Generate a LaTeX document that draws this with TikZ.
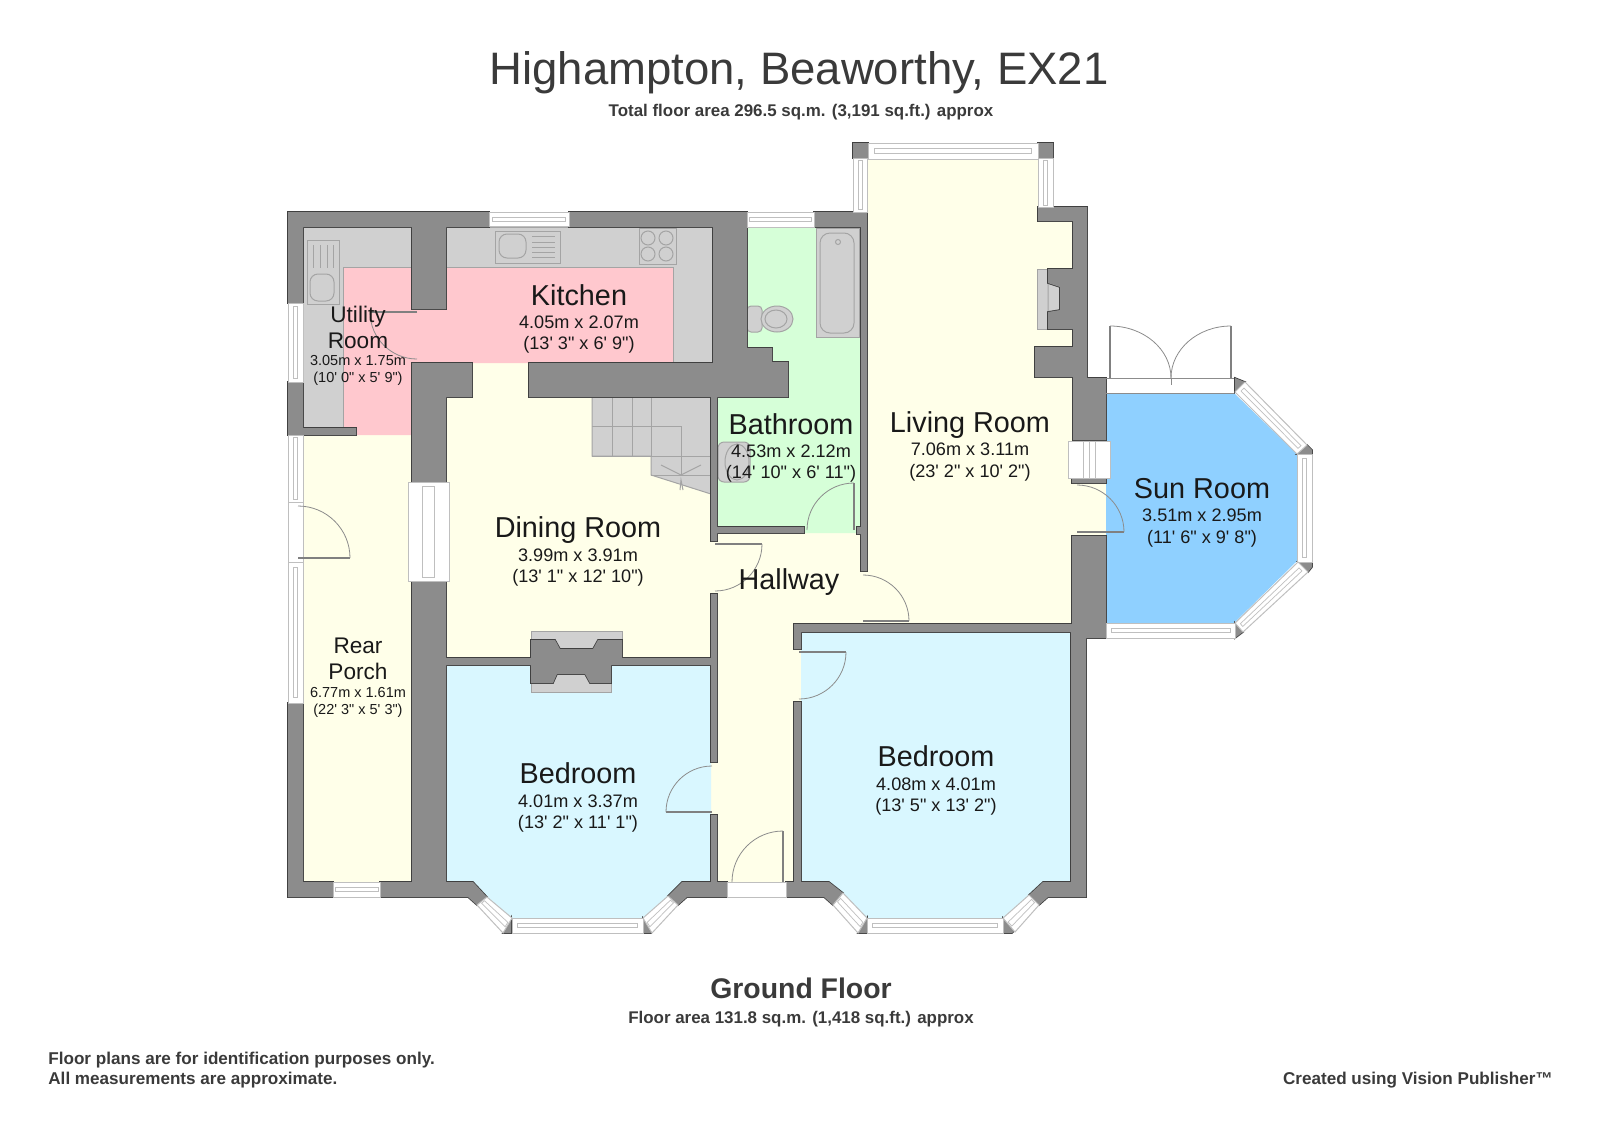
\documentclass[tikz,border=0pt]{standalone}
\usepackage{fontspec}
\usetikzlibrary{calc,positioning}

\newfontfamily\planfont{Liberation Sans}

\definecolor{floorcream}{HTML}{FFFFE9}
\definecolor{floorpink}{HTML}{FFC8CE}
\definecolor{floorblue}{HTML}{D9F7FF}
\definecolor{floorgreen}{HTML}{D6FFD8}
\definecolor{floorsun}{HTML}{8FD0FF}
\definecolor{fixture}{HTML}{D0D0D0}
\definecolor{fixtureline}{HTML}{A4A4A4}
\definecolor{wallgrey}{HTML}{8C8C8C}
\definecolor{inkgrey}{HTML}{3A3A3A}

\tikzset{
	floor/.style={draw=none},
	fitting/.style={draw=fixtureline, fill=fixture, line width=0.5pt},
	fitline/.style={draw=fixtureline, line width=0.5pt},
	wallline/.style={draw=black!75, line width=0.8pt},
	wallfill/.style={fill=wallgrey},
	glass/.style={draw=black!25, fill=white, line width=0.5pt},
	glassline/.style={draw=black!25, line width=0.35pt},
	leaf/.style={draw=black!50, line width=1.1pt},
	swing/.style={draw=black!45, line width=0.4pt},
	roomname/.style={font=\planfont\fontsize{14.4}{14.4}\selectfont, text=black!90, inner sep=0pt},
	roomsize/.style={font=\planfont\fontsize{9.05}{10.6}\selectfont, text=black!90, align=center, inner sep=0pt},
	nameslim/.style={font=\planfont\fontsize{11.3}{13.2}\selectfont, text=black!90, align=center, inner sep=0pt},
	sizeslim/.style={font=\planfont\fontsize{7.25}{8.6}\selectfont, text=black!90, align=center, inner sep=0pt},
	heading/.style={font=\planfont\fontsize{22.75}{22.75}\selectfont, text=inkgrey, inner sep=0pt},
	strapline/.style={font=\planfont\bfseries\fontsize{8.46}{8.46}\selectfont, text=inkgrey, inner sep=0pt},
	floorname/.style={font=\planfont\bfseries\fontsize{14.2}{14.2}\selectfont, text=inkgrey, inner sep=0pt},
	smallprint/.style={font=\planfont\bfseries\fontsize{8.55}{9.9}\selectfont, text=inkgrey, inner sep=0pt}
}

% window: short end #1 #2, far end #4 #3
\newcommand{\glazing}[4]{
	\draw[glass] #1 -- #2 -- #3 -- #4 -- cycle;
	\coordinate (ga) at ($#1!.35!#2$);
	\coordinate (gb) at ($#1!.65!#2$);
	\coordinate (gc) at ($#4!.65!#3$);
	\coordinate (gd) at ($#4!.35!#3$);
	\draw[glassline] ($(ga)!.04!(gd)$) -- ($(gd)!.04!(ga)$) -- ($(gc)!.04!(gb)$) -- ($(gb)!.04!(gc)$) -- cycle;
}

% door: hinge, leaf angle, swing end angle, width
\newcommand{\doorway}[4]{
	\draw[leaf] #1 -- ++(#2:#4);
	\draw[swing] #1 ++(#2:#4) arc[start angle=#2, end angle=#3, radius=#4];
}

\newcommand{\wallset}[1]{
	\path[#1]
		(288,212) -- (489,212) -- (489,227) -- (288,227) -- cycle
		(569,212) -- (747,212) -- (747,227) -- (569,227) -- cycle
		(814,212) -- (867,212) -- (867,227) -- (814,227) -- cycle
		(288,212) -- (303,212) -- (303,303) -- (288,303) -- cycle
		(288,382) -- (303,382) -- (303,428) -- (356,428) -- (356,435) -- (288,435) -- cycle
		(412,227) -- (446,227) -- (446,309) -- (412,309) -- cycle
		(412,363) -- (472,363) -- (472,397) -- (446,397) -- (446,482) -- (412,482) -- cycle
		(713,227) -- (747,227) -- (747,348) -- (772,348) -- (772,362) -- (788,362) -- (788,397) -- (529,397) -- (529,363) -- (713,363) -- cycle
		(861,227) -- (867,227) -- (867,571) -- (861,571) -- (861,534) -- (857,534) -- (857,527) -- (861,527) -- cycle
		(711,397) -- (717,397) -- (717,527) -- (804,527) -- (804,533) -- (717,533) -- (717,541) -- (711,541) -- cycle
		(711,594) -- (717,594) -- (717,762) -- (711,762) -- cycle
		(711,815) -- (717,815) -- (717,882) -- (727,882) -- (727,897) -- (687,897) -- (678,905) -- (668,896) -- (682,882) -- (711,882) -- cycle
		(412,581) -- (446,581) -- (446,658) -- (711,658) -- (711,665) -- (446,665) -- (446,882) -- (473,882) -- (487,897) -- (477,905) -- (468,897) -- (380,897) -- (380,882) -- (412,882) -- cycle
		(288,703) -- (303,703) -- (303,882) -- (333,882) -- (333,897) -- (288,897) -- cycle
		(531,640) -- (555,640) -- (560,649) -- (593,649) -- (598,640) -- (622,640) -- (622,665) -- (611,665) -- (611,683) -- (590,683) -- (585,674) -- (557,674) -- (553,683) -- (531,683) -- cycle
		(794,624) -- (1072,624) -- (1072,632) -- (801,632) -- (801,649) -- (794,649) -- cycle
		(794,702) -- (801,702) -- (801,882) -- (829,882) -- (843,893) -- (833,905) -- (824,897) -- (786,897) -- (786,882) -- (794,882) -- cycle
		(1072,536) -- (1106,536) -- (1106,638) -- (1086,638) -- (1086,897) -- (1048,897) -- (1039,905) -- (1029,895) -- (1043,882) -- (1071,882) -- (1071,624) -- (1072,624) -- cycle
		(1038,207) -- (1087,207) -- (1087,378) -- (1106,378) -- (1106,440) -- (1073,440) -- (1073,377) -- (1035,377) -- (1035,347) -- (1073,347) -- (1073,329) -- (1048,329) -- (1048,312) -- (1060,310) -- (1060,287) -- (1048,283) -- (1048,269) -- (1073,269) -- (1073,221) -- (1038,221) -- cycle
		(1072,479) -- (1106,479) -- (1106,483) -- (1072,483) -- cycle
		(853,143) -- (868,143) -- (868,158) -- (853,158) -- cycle
		(1038,143) -- (1053,143) -- (1053,158) -- (1038,158) -- cycle
		(511,918) -- (511,933) -- (503,933) -- cycle
		(643,918) -- (654,928) -- (651,933) -- (643,933) -- cycle
		(867,918) -- (867,933) -- (858,933) -- cycle
		(1003,918) -- (1015,930) -- (1012,933) -- (1003,933) -- cycle
		(1235,378) -- (1245,382) -- (1235,392) -- cycle
		(1297,454) -- (1307,445) -- (1312,450) -- (1312,454) -- cycle
		(1298,562) -- (1312,562) -- (1312,567) -- (1308,572) -- cycle
		(1235,623) -- (1243,632) -- (1235,638) -- cycle;
}

\begin{document}
\begin{tikzpicture}[x=0.5pt,y=-0.5pt]
	\useasboundingbox (0,0) rectangle (1600,1130);

	% floors
	\fill[floorcream] (446,363) rectangle (711,658);
	\fill[floorcream] (711,527) rectangle (801,882);
	\fill[floorcream] (711,527) rectangle (870,624);
	\fill[floorcream] (867,159) rectangle (1038,221);
	\fill[floorcream] (867,221) rectangle (1073,624);
	\fill[floorcream] (1073,483) rectangle (1106,536);
	\fill[floorcream] (303,435) rectangle (412,882);
	\fill[floorpink] (343,267) -- (412,267) -- (412,309) -- (446,309) -- (446,267) -- (673,267) -- (673,363) -- (412,363) -- (412,435) -- (343,435) -- cycle;
	\fill[floorgreen] (747,227) -- (861,227) -- (861,527) -- (857,527) -- (857,533) -- (804,533) -- (804,527) -- (717,527) -- (717,397) -- (788,397) -- (788,362) -- (772,362) -- (772,348) -- (747,348) -- cycle;
	\fill[floorblue] (446,665) -- (711,665) -- (711,882) -- (682,882) -- (668,896) -- (643,918) -- (512,918) -- (487,897) -- (473,882) -- (446,882) -- cycle;
	\fill[floorblue] (801,632) -- (1071,632) -- (1071,882) -- (1043,882) -- (1029,895) -- (1003,918) -- (867,918) -- (843,893) -- (829,882) -- (801,882) -- cycle;
	\fill[floorsun] (1106,393) -- (1234,393) -- (1297,454) -- (1297,561) -- (1234,623) -- (1106,623) -- cycle;

	% worktops and fittings
	\draw[fitting] (446,227) -- (713,227) -- (713,363) -- (673,363) -- (673,267) -- (446,267) -- cycle;
	\draw[fitting] (303,227) -- (412,227) -- (412,267) -- (343,267) -- (343,428) -- (303,428) -- cycle;
	\draw[fitting] (495,231) rectangle (560,263);
	\draw[fitting, rounded corners=4pt] (499,234) rectangle (526,258);
	\foreach \y in {236,242,247,252,257}
		\draw[fitline] (532,\y) -- (555,\y);
	\draw[fitting] (639,228) rectangle (676,264);
	\foreach \x/\y in {648/238,666/238,648/254,666/254}
		\draw[fitline] (\x,\y) circle[radius=7];
	\draw[fitting] (307,240) rectangle (339,304);
	\foreach \x in {313,320,327,333}
		\draw[fitline] (\x,245) -- (\x,268);
	\draw[fitting, rounded corners=4pt] (310,274) rectangle (334,301);

	\draw[fitting] (816,228) rectangle (859,337);
	\draw[fitting, rounded corners=5pt] (820,233) rectangle (854,333);
	\draw[fitline] (838,242) circle[radius=2.5];
	\draw[fitting, rounded corners=2pt] (747,306) rectangle (762,332);
	\draw[fitting] (777,319) ellipse[x radius=16, y radius=13];
	\draw[fitline] (776,319) ellipse[x radius=11, y radius=9];
	\draw[fitting, rounded corners=3pt] (718,442) rectangle (750,482);
	\draw[fitline] (737,462) ellipse[x radius=12, y radius=18];

	% stairs
	\draw[fitting] (592,397) -- (711,397) -- (711,494) -- (651,475) -- (651,456) -- (592,456) -- cycle;
	\foreach \x in {612,632,651}
		\draw[fitline] (\x,397) -- (\x,456);
	\draw[fitline] (592,426) -- (681,426) -- (681,475);
	\draw[fitline] (592,456) -- (711,456);
	\draw[fitline] (651,475) -- (711,475);
	\draw[fitline] (661,465) -- (681,475) -- (701,465);
	\draw[fitline] (680,490) -- (681,480) -- (683,490);

	% chimney hearths
	\draw[fitting] (531,631) rectangle (622,649);
	\draw[fitting] (531,674) rectangle (611,692);
	\draw[fitting] (1037,269) rectangle (1048,329);
	\draw[fitting] (1048,283) -- (1060,287) -- (1060,310) -- (1048,312) -- cycle;

	% walls
	\wallset{wallline}
	\wallset{wallfill}

	% windows
	\glazing{(489,212)}{(489,226)}{(569,226)}{(569,212)}
	\glazing{(747,212)}{(747,227)}{(814,227)}{(814,212)}
	\glazing{(868,143)}{(868,159)}{(1038,159)}{(1038,143)}
	\glazing{(853,158)}{(867,158)}{(867,212)}{(853,212)}
	\glazing{(1038,158)}{(1053,158)}{(1053,207)}{(1038,207)}
	\glazing{(288,303)}{(303,303)}{(303,382)}{(288,382)}
	\glazing{(288,435)}{(303,435)}{(303,502)}{(288,502)}
	\glazing{(288,562)}{(303,562)}{(303,703)}{(288,703)}
	\glazing{(333,882)}{(333,897)}{(380,897)}{(380,882)}
	\glazing{(408,482)}{(449,482)}{(449,581)}{(408,581)}
	\glazing{(477,905)}{(487,897)}{(512,918)}{(503,933)}
	\glazing{(512,918)}{(512,933)}{(643,933)}{(643,918)}
	\glazing{(643,918)}{(652,933)}{(678,905)}{(668,896)}
	\glazing{(833,905)}{(843,893)}{(867,918)}{(858,933)}
	\glazing{(867,918)}{(867,933)}{(1003,933)}{(1003,918)}
	\glazing{(1003,918)}{(1015,932)}{(1039,905)}{(1029,895)}
	\glazing{(1297,454)}{(1312,454)}{(1312,562)}{(1297,562)}
	\glazing{(1106,623)}{(1106,638)}{(1235,638)}{(1235,623)}
	\glazing{(1235,392)}{(1245,382)}{(1307,445)}{(1297,454)}
	\glazing{(1298,562)}{(1308,572)}{(1243,632)}{(1235,623)}

	% steps and open thresholds
	\draw[glass] (1068,441) rectangle (1110,478);
	\foreach \x in {1083,1089,1095}
		\draw[glassline] (\x,441) -- (\x,478);
	\draw[glass] (727,882) rectangle (786,897);
	\draw[glass] (288,502) rectangle (303,562);

	% doors
	\doorway{(715,544)}{0}{90}{47}
	\doorway{(712,812)}{180}{270}{46}
	\doorway{(854,530)}{270}{180}{47}
	\doorway{(863,621)}{0}{-90}{46}
	\doorway{(799,652)}{0}{90}{47}
	\doorway{(783,882)}{270}{180}{51}
	\doorway{(298,558)}{0}{-90}{52}
	\doorway{(1077,532)}{0}{-90}{47}
	\doorway{(417,312)}{180}{90}{47}
	\draw[leaf] (1110,378) -- (1110,326);
	\draw[leaf] (1231,378) -- (1231,326);
	\draw[swing] (1110,326) arc[start angle=270, end angle=360, x radius=61, y radius=52];
	\draw[swing] (1231,326) arc[start angle=270, end angle=180, x radius=60, y radius=52];
	\draw[swing] (1106,378) -- (1234,378);
	\draw[swing] (1171,378) -- (1171,385);
	\draw[swing] (1106,393) -- (1234,393);

	% room labels
	\node[roomname] (kitchen) at (579,295) {Kitchen};
	\node[roomsize] (kitchen_size) at (579,334.5) {4.05m x 2.07m\\(13' 3" x 6' 9")};
	\node[nameslim] (utility) at (358,327.5) {Utility\\Room};
	\node[sizeslim] (utility_size) at (358,370.5) {3.05m x 1.75m\\(10' 0" x 5' 9")};
	\node[roomname] (dining) at (578,530) {Dining Room};
	\node[roomsize] (dining_size) at (578,567.5) {3.99m x 3.91m\\(13' 1" x 12' 10")};
	\node[roomname] (bathroom) at (791,424) {Bathroom};
	\node[roomsize] (bathroom_size) at (791,463.5) {4.53m x 2.12m\\(14' 10" x 6' 11")};
	\node[roomname] (living) at (970,425) {Living Room};
	\node[roomsize] (living_size) at (970,462) {7.06m x 3.11m\\(23' 2" x 10' 2")};
	\node[roomname] (sun) at (1202,489) {Sun Room};
	\node[roomsize] (sun_size) at (1202,528) {3.51m x 2.95m\\(11' 6" x 9' 8")};
	\node[nameslim] (porch) at (358,659) {Rear\\Porch};
	\node[sizeslim] (porch_size) at (358,702.5) {6.77m x 1.61m\\(22' 3" x 5' 3")};
	\node[roomname] (bedroom_rear) at (578,773) {Bedroom};
	\node[roomsize] (bedroom_rear_size) at (578,813.5) {4.01m x 3.37m\\(13' 2" x 11' 1")};
	\node[roomname] (hallway) at (789,582) {Hallway};
	\node[roomname] (bedroom_front) at (936,756) {Bedroom};
	\node[roomsize] (bedroom_front_size) at (936,796.5) {4.08m x 4.01m\\(13' 5" x 13' 2")};

	% page texts
	\node[heading] (title) at (799,73) {Highampton, Beaworthy, EX21};
	\node[strapline] (total_area) at (801,112) {Total floor area 296.5 sq.m. (3,191 sq.ft.) approx};
	\node[floorname] (ground) at (801,988) {Ground Floor};
	\node[strapline] (ground_area) at (801,1019) {Floor area 131.8 sq.m. (1,418 sq.ft.) approx};
	\node[smallprint, anchor=west, align=left] (disclaimer) at (48,1070) {Floor plans are for identification purposes only.\\All measurements are approximate.};
	\node[smallprint, anchor=east] (credit) at (1553,1080) {Created using Vision Publisher™};
\end{tikzpicture}
\end{document}
